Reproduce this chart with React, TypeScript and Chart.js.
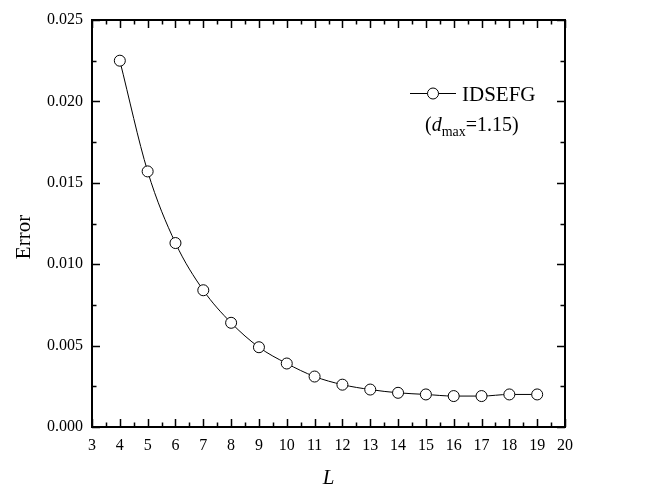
import React, { useEffect, useRef } from "react";
import { Chart, registerables } from "chart.js";

Chart.register(...registerables);

const L_VALUES = [4, 5, 6, 7, 8, 9, 10, 11, 12, 13, 14, 15, 16, 17, 18, 19];
const ERROR_VALUES = [
  0.0225, 0.0157, 0.0113, 0.0084, 0.0064, 0.0049, 0.0039, 0.0031, 0.0026,
  0.0023, 0.0021, 0.002, 0.0019, 0.0019, 0.002, 0.002,
];
const X_MIN = 3;
const X_MAX = 20;
const X_STEP = 1;
const Y_MIN = 0;
const Y_MAX = 0.025;
const Y_STEP = 0.005;
const SERIES_NAME = "IDSEFG";
const X_TITLE = "L";
const Y_TITLE = "Error";

const FONT = "'Liberation Serif', 'Times New Roman', serif";

const framePlugin = {
  id: "frameTicks",
  beforeDatasetsDraw(chart: any) {
    const { ctx, chartArea, scales } = chart;
    const { left, right, top, bottom } = chartArea;
    const xs = scales.x;
    const ys = scales.y;
    ctx.save();
    ctx.strokeStyle = "#000";
    ctx.lineWidth = 1.5;
    const major = 8;
    const minor = 4.5;
    ctx.beginPath();
    for (let v = X_MIN; v <= X_MAX + 1e-9; v += X_STEP / 2) {
      const r = (v - X_MIN) / X_STEP;
      const isMajor = Math.abs(r - Math.round(r)) < 1e-6;
      const len = isMajor ? major : minor;
      const px = Math.round(xs.getPixelForValue(v)) + 0.5;
      ctx.moveTo(px, bottom);
      ctx.lineTo(px, bottom - len);
      ctx.moveTo(px, top);
      ctx.lineTo(px, top + len);
    }
    for (let v = Y_MIN; v <= Y_MAX + 1e-9; v += Y_STEP / 2) {
      const r = (v - Y_MIN) / Y_STEP;
      const isMajor = Math.abs(r - Math.round(r)) < 1e-6;
      const len = isMajor ? major : minor;
      const py = Math.round(ys.getPixelForValue(v)) + 0.5;
      ctx.moveTo(left, py);
      ctx.lineTo(left + len, py);
      ctx.moveTo(right, py);
      ctx.lineTo(right - len, py);
    }
    ctx.stroke();
    ctx.lineWidth = 2;
    ctx.strokeRect(left, top, right - left, bottom - top);
    ctx.restore();
  },
  afterDatasetsDraw(chart: any) {
    const { ctx, chartArea } = chart;
    ctx.save();
    ctx.fillStyle = "#000";
    // axis titles
    ctx.textAlign = "center";
    ctx.textBaseline = "middle";
    ctx.font = `21px ${FONT}`;
    ctx.save();
    ctx.translate(24, 237);
    ctx.rotate(-Math.PI / 2);
    ctx.fillText(Y_TITLE, 0, 0);
    ctx.restore();
    ctx.font = `italic 21px ${FONT}`;
    ctx.fillText(X_TITLE, (chartArea.left + chartArea.right) / 2, 478);

    // legend sample
    const ly = 93.5;
    ctx.strokeStyle = "#000";
    ctx.lineWidth = 1;
    ctx.beginPath();
    ctx.moveTo(410, ly);
    ctx.lineTo(456, ly);
    ctx.stroke();
    ctx.beginPath();
    ctx.arc(433, ly, 5.5, 0, Math.PI * 2);
    ctx.fillStyle = "#fff";
    ctx.fill();
    ctx.stroke();
    ctx.fillStyle = "#000";
    ctx.textBaseline = "alphabetic";
    ctx.textAlign = "left";
    ctx.font = `21px ${FONT}`;
    ctx.fillText(SERIES_NAME, 462, 101);
    // second line: (d_max=1.15)
    let x = 425;
    const base = 131;
    ctx.font = `20px ${FONT}`;
    ctx.fillText("(", x, base);
    x += ctx.measureText("(").width;
    ctx.font = `italic 20px ${FONT}`;
    ctx.fillText("d", x, base);
    x += ctx.measureText("d").width;
    ctx.font = `14px ${FONT}`;
    ctx.fillText("max", x, base + 5);
    x += ctx.measureText("max").width;
    ctx.font = `20px ${FONT}`;
    ctx.fillText("=1.15)", x, base);
    ctx.restore();
  },
};

export default function App() {
  const ref = useRef<HTMLCanvasElement | null>(null);
  useEffect(() => {
    document.body.style.margin = "0";
    const canvas = ref.current!;
    const chart = new Chart(canvas, {
      type: "line",
      data: {
        datasets: [
          {
            label: SERIES_NAME,
            data: L_VALUES.map((l, i) => ({ x: l, y: ERROR_VALUES[i] })),
            borderColor: "#000",
            borderWidth: 1,
            pointBackgroundColor: "#fff",
            pointBorderColor: "#000",
            pointBorderWidth: 1,
            pointRadius: 5.5,
            cubicInterpolationMode: "monotone",
            fill: false,
          },
        ],
      },
      options: {
        animation: false,
        responsive: false,
        devicePixelRatio: 1,
        layout: { padding: { top: 20, right: 83, left: 0, bottom: 0 } },
        plugins: { legend: { display: false }, tooltip: { enabled: false } },
        scales: {
          x: {
            type: "linear",
            min: X_MIN,
            max: X_MAX,
            grid: { display: false, drawTicks: false },
            border: { display: false },
            ticks: {
              stepSize: X_STEP,
              color: "#000",
              font: { family: FONT, size: 16 },
              padding: 9,
              maxRotation: 0,
            },
            afterFit(scale: any) {
              scale.height = 59;
            },
          },
          y: {
            type: "linear",
            min: Y_MIN,
            max: Y_MAX,
            grid: { display: false, drawTicks: false },
            border: { display: false },
            ticks: {
              stepSize: Y_STEP,
              color: "#000",
              font: { family: FONT, size: 16 },
              padding: 9,
              callback: (v: any) => Number(v).toFixed(3),
            },
            afterFit(scale: any) {
              scale.width = 92;
            },
          },
        },
      },
      plugins: [framePlugin],
    } as any);
    return () => chart.destroy();
  }, []);
  return (
    <div style={{ position: "absolute", left: 0, top: 0, width: 648, height: 486, background: "#fff" }}>
      <canvas ref={ref} width={648} height={486} style={{ width: 648, height: 486 }} />
    </div>
  );
}
